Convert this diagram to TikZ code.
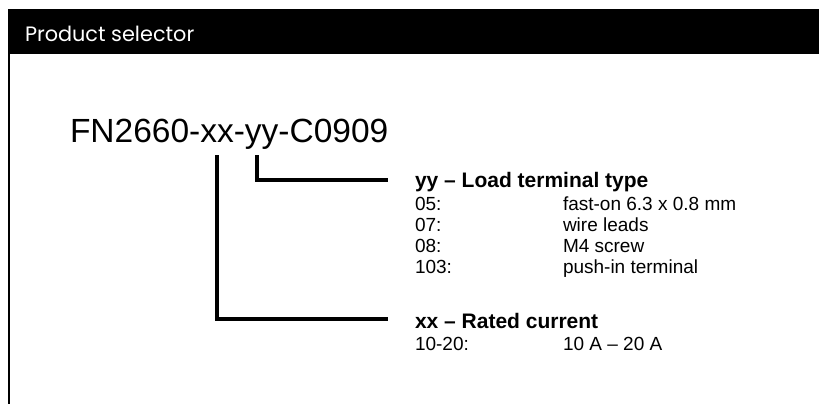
\documentclass[tikz,border=0pt]{standalone}
\usepackage{fontspec}
\setmainfont{Liberation Sans}
\newfontfamily\headfont{Poppins}
\begin{document}
\begin{tikzpicture}[x=1pt,y=-1pt,
  txt/.style={anchor=base west,inner sep=0pt,outer sep=0pt},
  codefont/.style={font=\fontsize{33.5}{36}\selectfont},
  headfont/.style={font=\bfseries\fontsize{21}{24}\selectfont},
  rowfont/.style={font=\fontsize{19}{21}\selectfont},
  conn/.style={line width=4pt,line cap=butt,line join=miter},
  frame/.style={line width=2pt}]
\useasboundingbox (0,0) rectangle (819,404);
\fill[white] (0,0) rectangle (819,404);
% header band
\fill[black] (8,9) rectangle (819,54);
\node[txt,text=white,font=\headfont\fontsize{20.8}{22}\selectfont] (title) at (25,42) {Product selector};
% left frame line
\draw[frame] (9,54) -- (9,404);
% part number
\node[txt,codefont] (code) at (70,142) {FN2660-xx-yy-C0909};
\coordinate (yytop) at (257,155);
\coordinate (xxtop) at (216.5,155);
\coordinate (yyend) at (388,180);
\coordinate (xxend) at (388,319);
% yy block
\node[txt,headfont] (yyhead) at (415,187) {yy – Load terminal type};
\node[txt,rowfont] (r1a) at (415,210) {05:};
\node[txt,rowfont] (r1b) at (563,210) {fast-on 6.3 x 0.8 mm};
\node[txt,rowfont] (r2a) at (415,231) {07:};
\node[txt,rowfont] (r2b) at (563,231) {wire leads};
\node[txt,rowfont] (r3a) at (415,252) {08:};
\node[txt,rowfont] (r3b) at (563,252) {M4 screw};
\node[txt,rowfont] (r4a) at (415,273) {103:};
\node[txt,rowfont] (r4b) at (563,273) {push-in terminal};
% xx block
\node[txt,headfont] (xxhead) at (415,328) {xx – Rated current};
\node[txt,rowfont] (r5a) at (415,350) {10-20:};
\node[txt,rowfont] (r5b) at (563,350) {10 A – 20 A};
% connectors
\draw[conn] (yytop) |- (yyend);
\draw[conn] (xxtop) |- (xxend);
\end{tikzpicture}
\end{document}
